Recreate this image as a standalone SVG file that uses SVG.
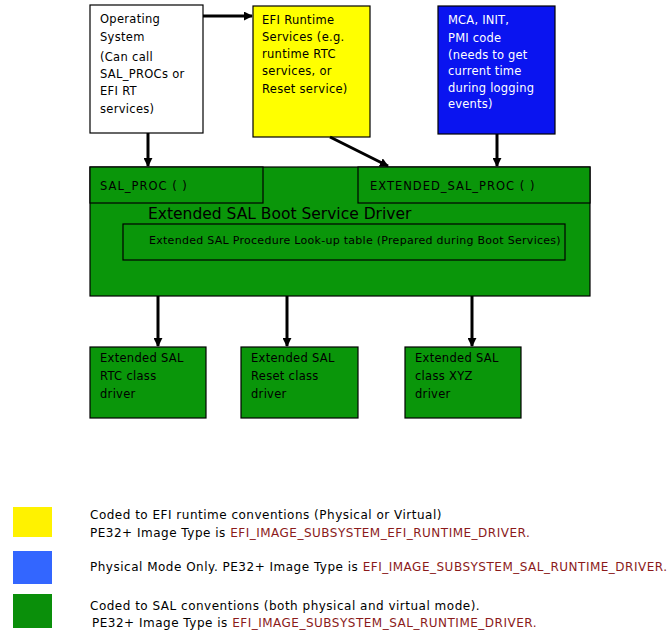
<svg xmlns="http://www.w3.org/2000/svg" width="670" height="638" viewBox="0 0 670 638">
<defs>
<marker id="ah" viewBox="0 0 10 10" refX="9" refY="5" markerWidth="3" markerHeight="3" orient="auto" markerUnits="strokeWidth"><path d="M0,0 L10,5 L0,10 z" fill="#000"/></marker>
<style>
.t{font-family:"DejaVu Sans","Liberation Sans",sans-serif;font-size:11.5px;letter-spacing:0.3px;fill:#000}
.w{fill:#fff;letter-spacing:0.2px}
.box{stroke:#000;stroke-width:1.2}
.g{fill:#0a960a}
.c{stroke:#000;stroke-width:3;fill:none;marker-end:url(#ah)}
.l{font-family:"DejaVu Sans","Liberation Sans",sans-serif;font-size:12px;letter-spacing:0.5px;fill:#000}
.r{fill:#8b1a1a}
</style>
</defs>
<rect width="670" height="638" fill="#fff"/>
<g id="os">
<rect class="box" x="90" y="5" width="113" height="128" fill="#fff"/>
<text class="t" x="100" y="23">Operating</text>
<text class="t" x="100" y="41">System</text>
<text class="t" x="100" y="61">(Can call</text>
<text class="t" x="100" y="78">SAL_PROCs or</text>
<text class="t" x="100" y="95">EFI RT</text>
<text class="t" x="100" y="113">services)</text>
</g>
<g id="efi">
<rect class="box" x="253" y="6" width="117" height="131" fill="#ffff00"/>
<text class="t" x="262" y="24">EFI Runtime</text>
<text class="t" x="262" y="41">Services (e.g.</text>
<text class="t" x="262" y="58">runtime RTC</text>
<text class="t" x="262" y="75">services, or</text>
<text class="t" x="262" y="93">Reset service)</text>
</g>
<g id="mca">
<rect class="box" x="438" y="6" width="117" height="128" fill="#0a14f0"/>
<text class="t w" x="448" y="24">MCA, INIT,</text>
<text class="t w" x="448" y="42">PMI code</text>
<text class="t w" x="448" y="59">(needs to get</text>
<text class="t w" x="448" y="75">current time</text>
<text class="t w" x="448" y="92">during logging</text>
<text class="t w" x="448" y="108">events)</text>
</g>
<g id="driver">
<rect class="box g" x="90" y="167" width="500" height="129"/>
<rect class="box g" x="90" y="167" width="173" height="36"/>
<rect class="box g" x="358" y="167" width="232" height="36"/>
<text class="t" x="100" y="190" style="letter-spacing:1px">SAL_PROC ( )</text>
<text class="t" x="370" y="190" style="letter-spacing:1px">EXTENDED_SAL_PROC ( )</text>
<text class="t" x="148" y="219" style="font-size:15.5px;letter-spacing:0">Extended SAL Boot Service Driver</text>
<rect class="box" x="123" y="224" width="442" height="36" fill="none"/>
<text class="t" x="149" y="244" style="font-size:11px;letter-spacing:0.28px">Extended SAL Procedure Look-up table (Prepared during Boot Services)</text>
</g>
<g id="rtc">
<rect class="box g" x="90" y="347" width="116" height="71"/>
<text class="t" x="100" y="362">Extended SAL</text>
<text class="t" x="100" y="380">RTC class</text>
<text class="t" x="100" y="398">driver</text>
</g>
<g id="reset">
<rect class="box g" x="241" y="347" width="117" height="71"/>
<text class="t" x="251" y="362">Extended SAL</text>
<text class="t" x="251" y="380">Reset class</text>
<text class="t" x="251" y="398">driver</text>
</g>
<g id="xyz">
<rect class="box g" x="405" y="347" width="116" height="71"/>
<text class="t" x="415" y="362">Extended SAL</text>
<text class="t" x="415" y="380">class XYZ</text>
<text class="t" x="415" y="398">driver</text>
</g>
<g id="connectors">
<line class="c" x1="203" y1="16" x2="252" y2="16"/>
<line class="c" x1="148" y1="133" x2="148" y2="166"/>
<line class="c" x1="330" y1="137" x2="388" y2="166"/>
<line class="c" x1="497" y1="134" x2="497" y2="166"/>
<line class="c" x1="158" y1="296" x2="158" y2="346"/>
<line class="c" x1="287" y1="296" x2="287" y2="346"/>
<line class="c" x1="472" y1="296" x2="472" y2="346"/>
</g>
<g id="legend">
<rect x="13" y="507" width="39" height="30" fill="#fff200"/>
<rect x="13" y="551" width="39" height="33" fill="#3366ff"/>
<rect x="13" y="594" width="39" height="34" fill="#0a8f0a"/>
<text class="l" x="90" y="519">Coded to EFI runtime conventions (Physical or Virtual)</text>
<text class="l" x="90" y="537">PE32+ Image Type is <tspan class="r">EFI_IMAGE_SUBSYSTEM_EFI_RUNTIME_DRIVER.</tspan></text>
<text class="l" x="90" y="571">Physical Mode Only. PE32+ Image Type is <tspan class="r">EFI_IMAGE_SUBSYSTEM_SAL_RUNTIME_DRIVER.</tspan></text>
<text class="l" x="90" y="610">Coded to SAL conventions (both physical and virtual mode).</text>
<text class="l" x="92" y="627">PE32+ Image Type is <tspan class="r">EFI_IMAGE_SUBSYSTEM_SAL_RUNTIME_DRIVER.</tspan></text>
</g>
</svg>
